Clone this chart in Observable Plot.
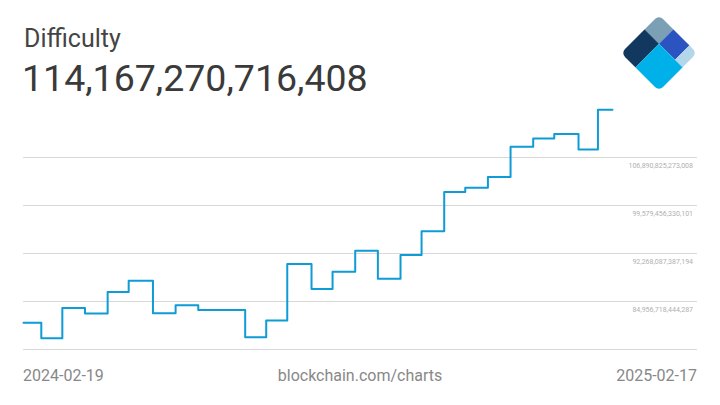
<!DOCTYPE html>
<html>
<head>
<meta charset="utf-8">
<script src="https://cdn.jsdelivr.net/npm/d3@7"></script>
<script src="https://cdn.jsdelivr.net/npm/@observablehq/plot@0.6"></script>
<style>
  html, body { margin: 0; padding: 0; background: #fff; }
  #wrap { position: relative; width: 720px; height: 405px; overflow: hidden; font-family: Roboto, "Noto Sans", sans-serif; }
  #chart { position: absolute; left: 0; top: 0; }
  .title { position: absolute; left: 24px; top: 25.5px; font-size: 25px; color: #444; line-height: 1; }
  .value { position: absolute; left: 22px; top: 60px; font-size: 37.5px; color: #3a3a3a; line-height: 1; }
  .foot { position: absolute; top: 368px; font-size: 16px; color: #888; line-height: 1; }
  #logo { position: absolute; left: 619px; top: 13px; }
</style>
</head>
<body>
<div id="wrap">
  <div id="chart"></div>
  <div class="title">Difficulty</div>
  <div class="value" id="current"></div>
  <div class="foot" id="startLabel" style="left:23px;"></div>
  <div class="foot" style="left:0;width:720px;text-align:center;">blockchain.com/charts</div>
  <div class="foot" id="endLabel" style="right:23px;"></div>
  <svg id="logo" width="80" height="80" viewBox="0 0 80 80">
    <defs>
      <clipPath id="lc"><rect x="-27" y="-27" width="54" height="54" rx="6" ry="6"/></clipPath>
    </defs>
    <g transform="translate(40,40) rotate(45)" clip-path="url(#lc)">
      <rect x="-27" y="-27" width="20.5" height="20.5" fill="#7b9fb5"/>
      <rect x="-6.5" y="-27" width="22.7" height="20.5" fill="#2b54c0"/>
      <rect x="16.2" y="-27" width="10.8" height="20.5" fill="#b2d6ea"/>
      <rect x="-27" y="-6.5" width="20.5" height="33.5" fill="#13385f"/>
      <rect x="-6.5" y="-6.5" width="33.5" height="33.5" fill="#00b0e8"/>
    </g>
  </svg>
</div>
<script>
// Difficulty adjustment dates (step starts) and values
const dates = ["2024-02-19","2024-03-01","2024-03-14","2024-03-28","2024-04-11","2024-04-24","2024-05-09","2024-05-23","2024-06-06","2024-06-20","2024-07-05","2024-07-18","2024-07-31","2024-08-15","2024-08-28","2024-09-11","2024-09-25","2024-10-09","2024-10-22","2024-11-05","2024-11-18","2024-12-02","2024-12-16","2024-12-30","2025-01-12","2025-01-27","2025-02-08","2025-02-17"];
const values = [81725299822043, 79351228131136, 83948652651917, 83126997340025, 86388558925172, 88104191118793, 83148355189239, 84381461788832, 83675262295059, 83675262295059, 79500093581558, 82047728459932, 90666502495565, 86871474313761, 89471664776970, 92671576265161, 88404633095654, 92049594548485, 95672703408224, 101646843652785, 102289677161680, 103919634711492, 108522647629298, 109782075598223, 110451907374649, 108105433845147, 114167270716408, 114167270716408];
const gridValues = [77645349501380, 84956718444287, 92268087387194, 99579456330101, 106890825273008];
const labelValues = [84956718444287, 92268087387194, 99579456330101, 106890825273008];
const yDomain = [77645349501380, 114202194215915];
const startText = "2024-02-19";
const endText = "2025-02-17";
const currentValue = 114167270716408;

const data = dates.map((d, i) => ({date: new Date(d + "T00:00:00Z"), value: values[i]}));
const fmt = v => v.toLocaleString("en-US");

const chart = Plot.plot({
  width: 720,
  height: 405,
  marginLeft: 23,
  marginRight: 23,
  marginTop: 0,
  marginBottom: 0,
  style: {fontFamily: "Roboto, sans-serif", background: "transparent"},
  x: {type: "utc", domain: [data[0].date, data[data.length - 1].date], range: [23, 612], axis: null},
  y: {type: "linear", domain: yDomain, range: [349, 109], axis: null},
  marks: [
    Plot.ruleY(gridValues, {stroke: "#d8d8d8", strokeWidth: 1}),
    Plot.text(labelValues, {y: d => d, text: d => fmt(d), frameAnchor: "right", textAnchor: "end", dx: -4.5, dy: 8.5, fontSize: 7, fill: "#b0b0b0"}),
    Plot.line(data, {x: "date", y: "value", curve: "step-after", stroke: "#0e9bd6", strokeWidth: 2})
  ]
});
document.getElementById("chart").appendChild(chart);
document.getElementById("current").textContent = fmt(currentValue);
document.getElementById("startLabel").textContent = startText;
document.getElementById("endLabel").textContent = endText;
</script>
</body>
</html>
